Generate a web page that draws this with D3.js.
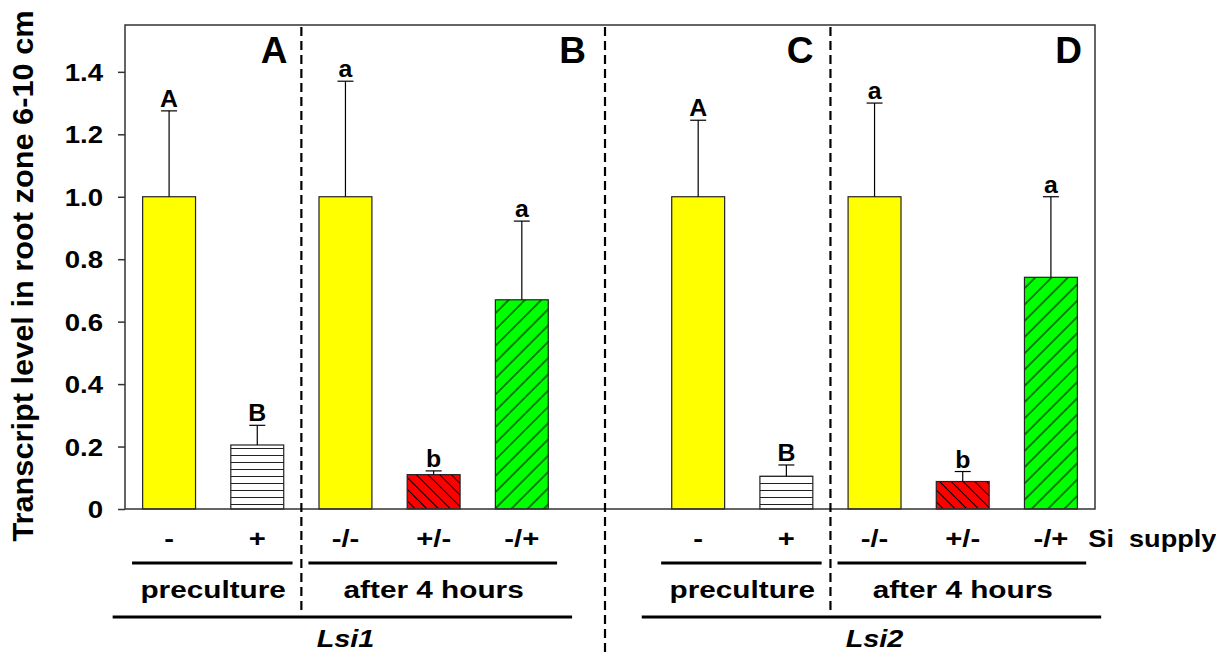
<!DOCTYPE html>
<html>
<head>
<meta charset="utf-8">
<script src="https://cdn.jsdelivr.net/npm/d3@7"></script>
<style>
  body { margin: 0; background: #fff; }
  text { font-family: "Liberation Sans", Arial, sans-serif; font-weight: bold; fill: #000; }
</style>
</head>
<body>
<svg id="chart" width="1216" height="652"></svg>
<script>
'use strict'

// data
const genes = ["Lsi1", "Lsi2"]
const siSupply = ["-", "+", "-/-", "+/-", "-/+"]
const phases = ["preculture", "preculture", "after 4 hours", "after 4 hours", "after 4 hours"]
const lsi1Mean = [1.0, 0.205, 1.0, 0.11, 0.67]
const lsi1Err = [0.275, 0.063, 0.37, 0.012, 0.252]
const lsi2Mean = [1.0, 0.105, 1.0, 0.088, 0.742]
const lsi2Err = [0.245, 0.036, 0.30, 0.032, 0.258]
const lsi1Letters = ["A", "B", "a", "b", "a"]
const lsi2Letters = ["A", "B", "a", "b", "a"]
const panelLetters = ["A", "B", "C", "D"]
const yTicks = [0, 0.2, 0.4, 0.6, 0.8, 1.0, 1.2, 1.4]
const fills = ["#ffff00", "url(#stripes)", "#ffff00", "url(#hatchRed)", "url(#hatchGreen)"]

const svg = d3.select("#chart")
const margin = {top: 25, right: 121, bottom: 143, left: 125}
const width = 1216 - margin.left - margin.right
const height = 652 - margin.top - margin.bottom

// the original lettering is drawn wider than the font; widen it around its anchor
function stretch(sel, sx){
  sel.each(function(){
    const t = d3.select(this)
    const x0 = +t.attr("x") || 0, y0 = +t.attr("y") || 0
    t.attr("x", 0).attr("y", 0).attr("transform", `translate(${x0},${y0}) scale(${sx},1)`)
  })
}

// one slot per bar, with an empty slot between the two genes
const rows = []
genes.forEach((g, gi) => {
  const means = gi === 0 ? lsi1Mean : lsi2Mean
  const errs = gi === 0 ? lsi1Err : lsi2Err
  const letters = gi === 0 ? lsi1Letters : lsi2Letters
  siSupply.forEach((s, i) => {
    rows.push({key: g + i, gene: g, i, supply: s, phase: phases[i], mean: means[i], err: errs[i], letter: letters[i]})
  })
})
const slots = rows.slice(0, 5).map(d => d.key).concat(["gap"], rows.slice(5).map(d => d.key))

const x = d3.scaleBand().domain(slots).range([0, width]).paddingInner(0.4).paddingOuter(0.2)
const y = d3.scaleLinear().domain([0, 1.55]).range([height, 0])
const step = x.step(), bw = x.bandwidth()

// patterns
const defs = svg.append("defs")
const stripes = defs.append("pattern").attr("id", "stripes").attr("patternUnits", "userSpaceOnUse")
  .attr("width", 10).attr("height", 7)
stripes.append("rect").attr("width", 10).attr("height", 7).attr("fill", "#fff")
stripes.append("line").attr("x1", 0).attr("x2", 10).attr("y1", 3.5).attr("y2", 3.5)
  .attr("stroke", "#222").attr("stroke-width", 1)

function hatch(id, color, angle, gap){
  const p = defs.append("pattern").attr("id", id).attr("patternUnits", "userSpaceOnUse")
    .attr("width", gap).attr("height", gap).attr("patternTransform", `rotate(${angle})`)
  p.append("rect").attr("width", gap).attr("height", gap).attr("fill", color)
  p.append("line").attr("x1", gap / 2).attr("x2", gap / 2).attr("y1", 0).attr("y2", gap)
    .attr("stroke", "#000").attr("stroke-width", 1)
}
hatch("hatchRed", "#ff0000", -45, 8.3)
hatch("hatchGreen", "#00ff00", 45, 11.5)

const g = svg.append("g").attr("transform", `translate(${margin.left},${margin.top})`)

// y axis
const yAxis = g.append("g")
  .call(d3.axisLeft(y).tickValues(yTicks).tickSize(7).tickPadding(15)
    .tickFormat(d => d === 0 ? "0" : d3.format(".1f")(d)))
yAxis.select(".domain").remove()
yAxis.selectAll("line").attr("stroke", "#333").attr("stroke-width", 1.5)
yAxis.selectAll("text").attr("font-size", 24).attr("font-family", null).attr("dy", "0.36em")
stretch(yAxis.selectAll("text"), 1.15)

g.append("text")
  .attr("transform", `translate(${-92},${height / 2 + 9}) rotate(-90) scale(1.06,1)`)
  .attr("text-anchor", "middle").attr("font-size", 29)
  .text("Transcript level in root zone 6-10 cm")

// bars
g.selectAll(".bar").data(rows).join("rect")
  .attr("class", "bar")
  .attr("x", d => x(d.key)).attr("width", bw)
  .attr("y", d => y(d.mean)).attr("height", d => y(0) - y(d.mean))
  .attr("fill", d => fills[d.i]).attr("stroke", "#222").attr("stroke-width", 1.2)

// error bars (upper only)
const err = g.selectAll(".err").data(rows).join("g").attr("class", "err")
  .attr("transform", d => `translate(${x(d.key) + bw / 2},0)`)
err.append("line").attr("y1", d => y(d.mean)).attr("y2", d => y(d.mean + d.err))
  .attr("stroke", "#000").attr("stroke-width", 1.2)
err.append("line").attr("x1", -8).attr("x2", 8).attr("y1", d => y(d.mean + d.err)).attr("y2", d => y(d.mean + d.err))
  .attr("stroke", "#000").attr("stroke-width", 1.2)
err.append("text").attr("y", d => y(d.mean + d.err) - 4).attr("text-anchor", "middle")
  .attr("font-size", 23).text(d => d.letter)
  .call(stretch, 1.08)

// frame
g.append("rect").attr("width", width).attr("height", height)
  .attr("fill", "none").attr("stroke", "#333").attr("stroke-width", 1.5)

// dashed separators
const sepX = [x(rows[2].key) - step * 0.2, x("gap") + bw / 2 - 5, x(rows[7].key) - step * 0.2]
const sepBottom = [585, 652 - margin.top, 585]
g.selectAll(".sep").data(sepX).join("line").attr("class", "sep")
  .attr("x1", d => d).attr("x2", d => d).attr("y1", 2).attr("y2", (d, i) => sepBottom[i])
  .attr("stroke", "#000").attr("stroke-width", 2.2).attr("stroke-dasharray", "9,5")

// panel letters
const panelRight = [sepX[0] - 14, sepX[1] - 19, sepX[2] - 17, width - 13]
g.selectAll(".panel").data(panelLetters).join("text").attr("class", "panel")
  .attr("x", (d, i) => panelRight[i]).attr("y", 38).attr("text-anchor", "end")
  .attr("font-size", 37).text(d => d)

// Si supply labels
g.selectAll(".supply").data(rows).join("text").attr("class", "supply")
  .attr("x", d => x(d.key) + bw / 2).attr("y", height + 38).attr("text-anchor", "middle")
  .attr("font-size", 24).text(d => d.supply)
  .call(stretch, 1.22)
g.append("text").attr("x", x(rows[9].key) + bw + 11).attr("y", height + 38)
  .attr("font-size", 24).attr("xml:space", "preserve").text("Si  supply")
  .call(stretch, 1.13)

// phase groups
const groups = []
genes.forEach(gn => {
  d3.groups(rows.filter(d => d.gene === gn), d => d.phase).forEach(([phase, ds]) => {
    groups.push({gene: gn, phase, x0: x(ds[0].key), x1: x(ds[ds.length - 1].key) + bw})
  })
})
g.selectAll(".phaseLine").data(groups).join("line").attr("class", "phaseLine")
  .attr("x1", d => d.x0 - step * 0.12).attr("x2", d => d.x1 + step * 0.1)
  .attr("y1", height + 54).attr("y2", height + 54)
  .attr("stroke", "#000").attr("stroke-width", 3)
g.selectAll(".phase").data(groups).join("text").attr("class", "phase")
  .attr("x", d => (d.x0 + d.x1) / 2).attr("y", height + 89).attr("text-anchor", "middle")
  .attr("font-size", 24).text(d => d.phase)
  .call(stretch, 1.24)

// gene groups
const geneSpan = genes.map(gn => {
  const ds = rows.filter(d => d.gene === gn)
  return {gene: gn, x0: x(ds[0].key), x1: x(ds[ds.length - 1].key) + bw}
})
g.selectAll(".geneLine").data(geneSpan).join("line").attr("class", "geneLine")
  .attr("x1", d => d.x0 - step * 0.34).attr("x2", d => d.x1 + step * 0.27)
  .attr("y1", height + 108).attr("y2", height + 108)
  .attr("stroke", "#000").attr("stroke-width", 3)
g.selectAll(".gene").data(geneSpan).join("text").attr("class", "gene")
  .attr("x", d => (d.x0 + d.x1) / 2).attr("y", height + 138).attr("text-anchor", "middle")
  .attr("font-size", 24).attr("font-style", "italic").text(d => d.gene)
  .call(stretch, 1.2)
</script>
</body>
</html>
